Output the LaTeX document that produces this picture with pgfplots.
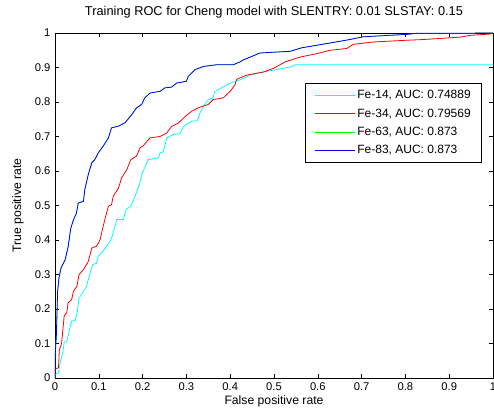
\documentclass[border=0pt]{standalone}
\usepackage{fontspec}
\setmainfont{Liberation Sans}
\usepackage{pgfplots}
\pgfplotsset{compat=1.18}
\usepackage{pgfplotstable}
\definecolor{mcyan}{RGB}{0,255,255}
\definecolor{mred}{RGB}{255,0,0}
\definecolor{mgreen}{RGB}{0,255,0}
\definecolor{mblue}{RGB}{0,0,255}

% ROC points read off the reference (false positive rate, true positive rate)
\pgfplotstableread{
fpr tpr
0 0
0 0.01
0.008 0.015
0.011 0.04
0.018 0.075
0.021 0.104
0.027 0.105
0.033 0.14
0.038 0.165
0.046 0.167
0.051 0.193
0.055 0.232
0.063 0.247
0.072 0.266
0.078 0.295
0.086 0.329
0.094 0.332
0.099 0.353
0.110 0.368
0.118 0.382
0.126 0.396
0.132 0.416
0.141 0.459
0.156 0.459
0.162 0.488
0.173 0.498
0.183 0.527
0.194 0.566
0.198 0.59
0.213 0.633
0.236 0.638
0.240 0.653
0.247 0.655
0.255 0.696
0.270 0.706
0.285 0.708
0.293 0.729
0.312 0.744
0.325 0.746
0.331 0.768
0.339 0.787
0.350 0.807
0.361 0.812
0.365 0.831
0.380 0.841
0.400 0.855
0.422 0.864
0.445 0.878
0.476 0.887
0.517 0.897
0.540 0.902
0.548 0.908
1 0.908
}\fefourteen

\pgfplotstableread{
fpr tpr
0 0
0 0.025
0.008 0.03
0.010 0.082
0.015 0.10
0.021 0.18
0.027 0.19
0.030 0.218
0.038 0.227
0.042 0.251
0.050 0.266
0.055 0.30
0.065 0.314
0.076 0.338
0.084 0.377
0.095 0.382
0.103 0.401
0.109 0.435
0.116 0.47
0.122 0.498
0.129 0.502
0.133 0.527
0.145 0.551
0.152 0.58
0.164 0.604
0.173 0.633
0.186 0.643
0.194 0.667
0.202 0.674
0.217 0.696
0.240 0.70
0.255 0.71
0.266 0.729
0.282 0.739
0.297 0.758
0.312 0.773
0.327 0.783
0.350 0.793
0.361 0.807
0.384 0.812
0.400 0.831
0.411 0.85
0.415 0.866
0.438 0.878
0.476 0.887
0.498 0.897
0.525 0.916
0.559 0.93
0.597 0.94
0.628 0.95
0.666 0.955
0.681 0.967
0.727 0.974
0.803 0.979
0.84 0.981
0.925 0.988
0.947 0.993
0.993 0.997
1 1
}\fethirtyfour

% Fe-63 and Fe-83 have the same curve (AUC 0.873); the blue one hides the green
\pgfplotstableread{
fpr tpr
0 0
0 0.06
0.003 0.12
0.006 0.25
0.009 0.29
0.014 0.32
0.023 0.342
0.030 0.38
0.036 0.434
0.042 0.458
0.049 0.478
0.053 0.507
0.065 0.512
0.068 0.546
0.076 0.59
0.084 0.624
0.091 0.633
0.099 0.653
0.110 0.672
0.122 0.696
0.129 0.725
0.145 0.73
0.160 0.74
0.175 0.763
0.186 0.783
0.198 0.793
0.205 0.812
0.217 0.826
0.240 0.831
0.251 0.841
0.266 0.843
0.278 0.855
0.300 0.860
0.304 0.874
0.312 0.884
0.320 0.894
0.339 0.903
0.369 0.908
0.407 0.908
0.422 0.916
0.430 0.922
0.468 0.942
0.537 0.947
0.563 0.957
0.628 0.971
0.673 0.981
0.704 0.989
0.803 0.996
0.826 0.999
0.96 0.999
0.96 1
1 1
}\fesixtythree

\begin{document}
\begin{tikzpicture}
\begin{axis}[
  name=ax,
  scale only axis,
  width=438pt, height=345pt,
  xmin=0, xmax=1, ymin=0, ymax=1,
  xtick={0,0.1,...,1}, ytick={0,0.1,...,1},
  tick align=inside,
  major tick length=4pt,
  axis line style={black, line width=0.6pt},
  tick style={black, line width=0.5pt},
  /pgf/number format/assume math mode=true,
  tick label style={font=\fontsize{11.2}{13}\selectfont},
  xticklabel style={yshift=-1pt},
  yticklabel style={xshift=-1pt},
  title style={font=\fontsize{12.8}{15}\selectfont,
    at={(axis description cs:0.5,1.0435)}, anchor=center},
  xlabel style={font=\fontsize{12.2}{14}\selectfont,
    at={(axis description cs:0.5,-0.068)}, anchor=center},
  ylabel style={font=\fontsize{12.2}{14}\selectfont,
    at={(axis description cs:-0.0845,0.5)}, anchor=center},
  title={Training ROC for Cheng model with SLENTRY: 0.01 SLSTAY: 0.15},
  xlabel={False positive rate},
  ylabel={True positive rate},
  legend cell align=left,
  legend image code/.code={\draw[#1, line width=0.8pt] (0pt,0pt) -- (40pt,0pt);},
  legend style={at={(0.975,0.855)}, anchor=north east,
    draw=black, line width=0.6pt,
    font=\fontsize{12}{14}\selectfont,
    row sep=4.5pt, inner xsep=9pt, inner ysep=5pt},
]
\addplot[mcyan, line width=0.8pt] table[x=fpr, y=tpr] {\fefourteen};
\addlegendentry{Fe-14, AUC: 0.74889}
\addplot[mred, line width=0.8pt] table[x=fpr, y=tpr] {\fethirtyfour};
\addlegendentry{Fe-34, AUC: 0.79569}
\addplot[mgreen, line width=0.5pt] table[x=fpr, y=tpr] {\fesixtythree};
\addlegendentry{Fe-63, AUC: 0.873}
\addplot[mblue, line width=0.8pt] table[x=fpr, y=tpr] {\fesixtythree};
\addlegendentry{Fe-83, AUC: 0.873}
\end{axis}
\pgfresetboundingbox
\path[use as bounding box] ([xshift=-55pt,yshift=-36pt]ax.south west)
  rectangle ([xshift=1pt,yshift=33pt]ax.north east);
\end{tikzpicture}
\end{document}
